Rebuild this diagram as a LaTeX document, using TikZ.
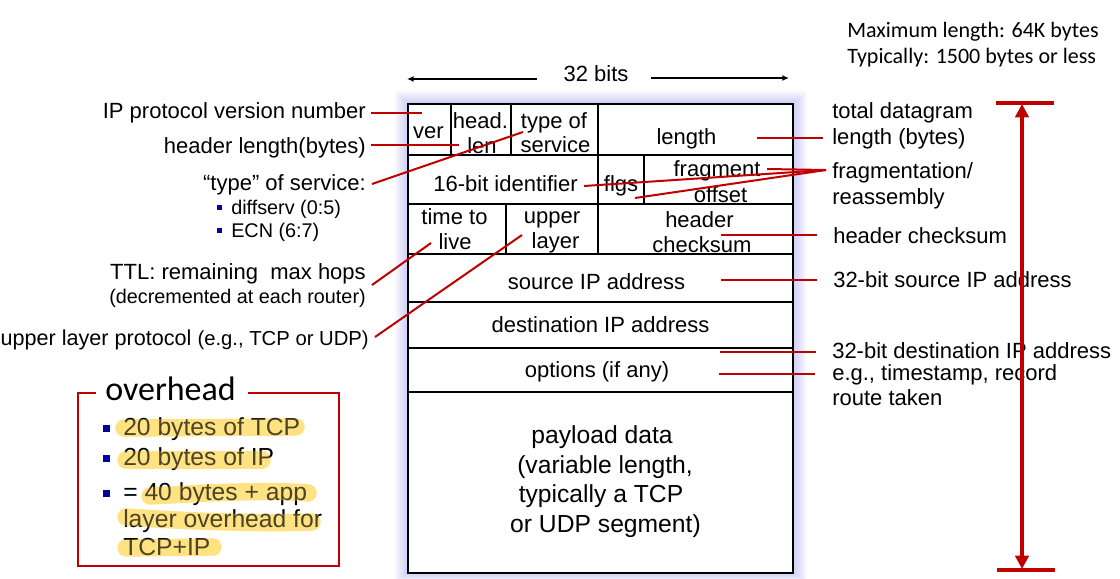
\documentclass[tikz,border=0pt]{standalone}
\usepackage{fontspec}
\setmainfont{Liberation Sans}
\newfontfamily\calib{Carlito}
\usetikzlibrary{arrows.meta}
\definecolor{dred}{RGB}{192,0,0}
\definecolor{navy}{RGB}{0,0,160}
\definecolor{hilite}{RGB}{255,226,130}
\definecolor{glow}{RGB}{175,175,240}
\begin{document}
\begin{tikzpicture}[x=0.75pt,y=-0.75pt,
  big/.style={font=\fontsize{16.5}{19}\selectfont, inner sep=0pt, anchor=base},
  bigl/.style={big, anchor=base west},
  bigr/.style={big, anchor=base east},
  small/.style={font=\fontsize{14.85}{17}\selectfont, inner sep=0pt, anchor=base},
  pay/.style={font=\fontsize{18.5}{21}\selectfont, inner sep=0pt, anchor=base},
  ovl/.style={font=\fontsize{18.5}{21}\selectfont, inner sep=0pt, anchor=base west},
  cal/.style={font=\calib\fontsize{16.5}{19}\selectfont, inner sep=0pt, anchor=base west},
  boxline/.style={line width=1.8pt, black},
  conn/.style={dred, line width=1.5pt},
  bigred/.style={dred, line width=3pt},
  hl/.style={hilite, line width=13pt, line cap=round},
  hlover/.style={hilite, opacity=0.3, line width=13pt, line cap=round},
  bits/.style={black, line width=1.2pt, -{Latex[length=5pt,width=4.5pt]}}
]
\useasboundingbox (0,0) rectangle (1120,578);

% glow around the datagram box
\foreach \i in {1,...,14}
  \fill[glow, opacity=0.06] (408-\i*0.9,104-\i*0.9) rectangle (793+\i*1.0,573+\i*0.6);
\fill[white] (408,104) rectangle (793,573);

% datagram box
\draw[boxline] (408,104) rectangle (793,573);
\foreach \yy in {155,204,254,302,348,392}
  \draw[boxline] (408,\yy) -- (793,\yy);
\foreach \xx in {451,511,598} \draw[boxline] (\xx,104) -- (\xx,155);
\foreach \xx in {598,644} \draw[boxline] (\xx,155) -- (\xx,204);
\foreach \xx in {506,598} \draw[boxline] (\xx,204) -- (\xx,254);

% cell texts
\node[big] (ver) at (428.5,138) {ver};
\node[big] (head1) at (480.5,128) {head.};
\node[big] (head2) at (482,153) {len};
\node[big] (tos1) at (554,128) {type of};
\node[big] (tos2) at (555.5,152) {service};
\node[big] (len) at (686.5,144) {length};
\node[big] (ident) at (505.5,191) {16-bit identifier};
\node[big] (flgs) at (621,191) {flgs};
\node[big] (frag1) at (717,176) {fragment};
\node[big] (frag2) at (720.5,202) {offset};
\node[big] (ttl1) at (454.5,224) {time to};
\node[big] (ttl2) at (455,249) {live};
\node[big] (ul1) at (552,223) {upper};
\node[big] (ul2) at (555.5,248) {layer};
\node[big] (hc1) at (699.5,227) {header};
\node[big] (hc2) at (702,252) {checksum};
\node[big] (src) at (596.5,289) {source IP address};
\node[big] (dst) at (600.5,332) {destination IP address};
\node[big] (opt) at (597,377) {options (if any)};
\node[pay] (p1) at (602,443) {payload data};
\node[pay] (p2) at (605,473) {(variable length,};
\node[pay] (p3) at (601,502) {typically a TCP};
\node[pay] (p4) at (605.5,532) {or UDP segment)};

% 32 bits
\node[big] (bits) at (596,81) {32 bits};
\coordinate (bl1) at (537,79); \coordinate (bl2) at (407,79);
\coordinate (br1) at (651,78); \coordinate (br2) at (789,78);
\draw[bits] (bl1) -- (bl2);
\draw[bits] (br1) -- (br2);

% left labels
\node[bigr] (lver) at (366,118) {IP protocol version number};
\node[bigr] (lhl) at (366,153) {header length(bytes)};
\node[bigr] (ltos) at (366,190) {“type” of service:};
\node[small, anchor=base west] (ld1) at (231,214) {diffserv (0:5)};
\node[small, anchor=base west] (ld2) at (231,237) {ECN (6:7)};
\fill[navy] (216.5,204.5) rectangle (221.5,209.5);
\fill[navy] (216.5,227.5) rectangle (221.5,232.5);
\node[bigr] (lttl1) at (366,279) {TTL: remaining\ \ max hops};
\node[small, anchor=base east] (lttl2) at (366,303) {(decremented at each router)};
\node[inner sep=0pt, anchor=base east, font=\fontsize{16.2}{19}\selectfont] (lul) at (369,345) {upper layer protocol {\fontsize{15.2}{17}\selectfont (e.g., TCP or UDP)}};

% right labels
\node[bigl] (rl1) at (832,118) {total datagram};
\node[bigl] (rl2) at (832,144) {length (bytes)};
\node[bigl] (rf1) at (832,178) {fragmentation/};
\node[bigl] (rf2) at (832,204) {reassembly};
\node[bigl] (rhc) at (833,243) {header checksum};
\node[bigl] (rsrc) at (833,287) {32-bit source IP address};
\node[bigl] (rdst) at (832,358) {32-bit destination IP address};
\node[bigl] (ropt1) at (832,380) {e.g., timestamp, record};
\node[bigl] (ropt2) at (832,405) {route taken};

% top-right note
\node[cal] (max1) at (847,37) {Maximum length: 64K bytes};
\node[cal] (max2) at (847,63) {Typically: 1500 bytes or less};

% connectors (left)
\coordinate (a1) at (371,113); \coordinate (b1) at (422,113);
\coordinate (a2) at (371,145); \coordinate (b2) at (459,145);
\coordinate (a3) at (372,184); \coordinate (b3) at (523,132);
\coordinate (a4) at (372,285); \coordinate (b4) at (431,243);
\coordinate (a5) at (375,337); \coordinate (b5) at (522,235);
\draw[conn] (a1) -- (b1);
\draw[conn] (a2) -- (b2);
\draw[conn] (a3) -- (b3);
\draw[conn] (a4) -- (b4);
\draw[conn] (a5) -- (b5);
% connectors (right)
\coordinate (c6) at (757,138); \coordinate (d6) at (823,138);
\coordinate (hub) at (826,170);
\coordinate (f1) at (767,169); \coordinate (f2) at (584,186); \coordinate (f3) at (635,198);
\coordinate (c8) at (721,235); \coordinate (d8) at (817,235);
\coordinate (c9) at (721,280); \coordinate (d9) at (817,280);
\coordinate (c10) at (720,352); \coordinate (d10) at (816,352);
\coordinate (c11) at (719,374); \coordinate (d11) at (815,374);
\draw[conn] (c6) -- (d6);
\draw[conn] (f1) -- (hub);
\draw[conn] (f2) -- (hub);
\draw[conn] (f3) -- (hub);
\draw[conn] (c8) -- (d8);
\draw[conn] (c9) -- (d9);
\draw[conn] (c10) -- (d10);
\draw[conn] (c11) -- (d11);

% total length arrow
\coordinate (t1) at (996,103); \coordinate (t2) at (1054,103);
\coordinate (u1) at (997,570); \coordinate (u2) at (1055,570);
\coordinate (vt) at (1022,104); \coordinate (vb) at (1022,569);
\draw[bigred] (t1) -- (t2);
\draw[bigred] (u1) -- (u2);
\draw[bigred, {Triangle[length=10pt,width=10pt]}-{Triangle[length=10pt,width=10pt]}] (vt) -- (vb);

% overhead box
\draw[dred, line width=1.5pt] (96,393) -| (78,566) -| (339,393) -- (248,393);
\node[font=\calib\fontsize{25.5}{28}\selectfont, inner sep=0pt, anchor=base west] (ovh) at (105,400) {overhead};
% highlighter strokes (under the text)
\draw[hl] (124,428) -- (296,427);
\draw[hl] (126,460) -- (262,460);
\draw[hl] (150,496) .. controls (220,492) and (270,490) .. (308,493);
\draw[hl] (126,517) .. controls (180,521) and (260,524) .. (312,522);
\draw[hl] (126,548) -- (213,547);
\node[ovl] (o1) at (123,435) {20 bytes of TCP};
\node[ovl] (o2) at (123,465) {20 bytes of IP};
\node[ovl] (o3) at (123,500) {= 40 bytes + app};
\node[ovl] (o4) at (123,527) {layer overhead for};
\node[ovl] (o5) at (123,555) {TCP+IP};
\fill[navy] (102.5,424.5) rectangle (109.5,431.5);
\fill[navy] (102.5,454.5) rectangle (109.5,461.5);
\fill[navy] (102.5,489.5) rectangle (109.5,496.5);
% highlighter strokes (tint over the text)
\draw[hlover] (124,428) -- (296,427);
\draw[hlover] (126,460) -- (262,460);
\draw[hlover] (150,496) .. controls (220,492) and (270,490) .. (308,493);
\draw[hlover] (126,517) .. controls (180,521) and (260,524) .. (312,522);
\draw[hlover] (126,548) -- (213,547);
\end{tikzpicture}
\end{document}
